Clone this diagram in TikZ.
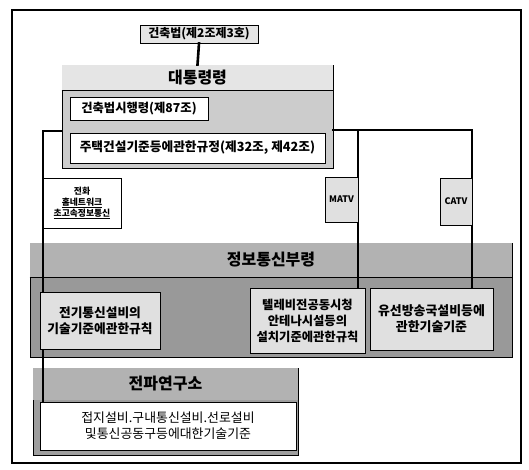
\documentclass[tikz,border=0pt]{standalone}
\usepackage{fontspec}
\newfontfamily\kr{Noto Sans CJK KR}
\begin{document}
\begin{tikzpicture}[x=1pt,y=-1pt,
  every node/.style={inner sep=0pt, align=center},
  box/.style={draw=black, line width=0.8pt, font=\kr\bfseries},
  band/.style={draw=black, line width=0.9pt},
  title/.style={font=\kr\bfseries\fontsize{16}{18}\selectfont},
  conn/.style={line width=2.6pt, line cap=rect},
  fs/.style={font=\kr\bfseries\fontsize{#1}{16}\selectfont},
  fsm/.style={font=\kr\bfseries\fontsize{#1}{11}\selectfont}
]
\useasboundingbox (0,0) rectangle (529,470);
\draw[line width=1.2pt] (12,10) rectangle (521,463);

% top law box
\node[box, fill=black!10, minimum width=118pt, minimum height=18pt, fs=12] (law) at (199,34) {건축법(제2조제3호)};

% presidential decree band
\node[band, fill=black!20, minimum width=271pt, minimum height=103pt] (pres) at (197.5,116.5) {};
\fill[black!10] ([xshift=0.45pt,yshift=-0.45pt]pres.north west) rectangle ([xshift=-0.45pt]pres.east |- 0,90);
\draw[line width=0.6pt] (pres.west |- 0,90) -- (pres.east |- 0,90);
\node[title] (presT) at (197.5,77.5) {대통령령};
\node[box, fill=white, minimum width=138pt, minimum height=23pt, fs=12.3] (sih) at (139,108.5) {건축법시행령(제87조)};
\node[box, fill=white, minimum width=255pt, minimum height=30pt, fs=12.7] (jut) at (197.5,148) {주택건설기준등에관한규정(제32조, 제42조)};

% ministry band
\node[band, fill=black!40, minimum width=482pt, minimum height=114pt] (mic) at (271,300) {};
\fill[black!30] ([xshift=0.45pt,yshift=-0.45pt]mic.north west) rectangle ([xshift=-0.45pt]mic.east |- 0,277);
\draw[line width=0.6pt] (mic.west |- 0,277) -- (mic.east |- 0,277);
\node[title] (micT) at (271,260) {정보통신부령};

% radio research band
\node[band, fill=black!38, minimum width=265pt, minimum height=87pt] (rra) at (165.5,411.5) {};
\fill[black!30] ([xshift=0.45pt,yshift=-0.45pt]rra.north west) rectangle ([xshift=-0.45pt]rra.east |- 0,400);
\node[title] (rraT) at (165.5,384) {전파연구소};

% connectors
\coordinate (lt) at (43,131);
\coordinate (rt) at (472,130);
\coordinate (mt) at (358,130);
\draw[conn] (law.south) -- (pres.north);
\draw[conn] (pres.west |- lt) -- (lt) -- (lt |- 0,402);
\draw[conn] (pres.east |- rt) -- (rt) -- (rt |- 0,288);
\draw[conn] (mt) -- (mt |- 0,288);

% lower boxes
\node[box, fill=black!12, minimum width=120pt, minimum height=57pt, fs=12.7] (elec) at (100,320.5) {전기통신설비의\\기술기준에관한규칙};
\node[box, fill=black!12, minimum width=115pt, minimum height=65pt, fs=12.3] (tv) at (307.5,320.5) {텔레비전공동시청\\안테나시설등의\\설치기준에관한규칙};
\node[box, fill=black!12, minimum width=123pt, minimum height=62pt, fs=12.9] (cable) at (431.5,319) {유선방송국설비등에\\관한기술기준};
\node[box, fill=white, minimum width=256pt, minimum height=48pt, font=\kr\fontsize{12.9}{16}\selectfont] (gnd) at (168,426) {접지설비.구내통신설비.선로설비\\및통신공동구등에대한기술기준};

% labels on connectors
\node[box, fill=white, minimum width=78pt, minimum height=50pt, fsm=8.8] (phone) at (82,203) {전화\\\underline{홈네트워크}\\\underline{초고속정보통신}};
\node[box, fill=black!12, minimum width=33pt, minimum height=45pt, fsm=9] (matv) at (341.5,199.5) {MATV};
\node[box, fill=black!12, minimum width=32pt, minimum height=47pt, fsm=9] (catv) at (456,201.5) {CATV};
\end{tikzpicture}
\end{document}
